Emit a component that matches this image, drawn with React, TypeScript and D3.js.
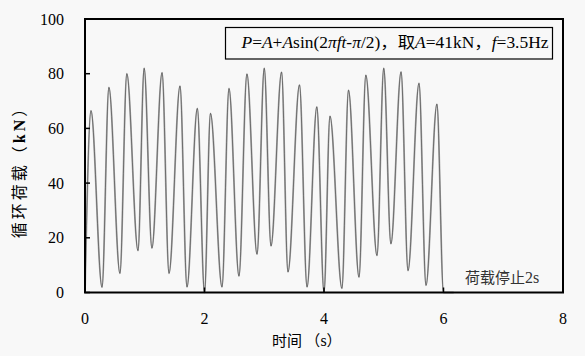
import * as d3 from "d3";
import React from "react";

// extrema of the recorded load history (s, kN)
const times = [
  0, 0.1, 0.285, 0.4, 0.585, 0.7, 0.887, 0.99, 1.12, 1.29, 1.406, 1.59, 1.707, 1.88,
  2.0, 2.1, 2.293, 2.41, 2.577, 2.71, 2.879, 3.0, 3.113, 3.29, 3.397, 3.59, 3.716, 3.88,
  4.0, 4.1, 4.3, 4.41, 4.586, 4.7, 4.887, 5.0, 5.12, 5.29, 5.406, 5.59, 5.707, 5.89,
  6.0, 6.17,
];
const loads = [
  0, 66.5, 1.9, 75, 7, 80, 15.3, 82, 16.2, 80.4, 7, 75.5, 2, 67.3,
  0, 65.5, 2, 74.6, 6, 79.9, 14, 82, 17, 80.6, 7.5, 75.9, 2, 67.9,
  0, 64.5, 1.5, 74, 5.6, 79.5, 13.5, 82, 17.8, 80.7, 8, 76.5, 2.6, 68.9,
  0, 0,
];

const xTicks = [0, 2, 4, 6, 8];
const yTicks = [0, 20, 40, 60, 80, 100];

const serif = "Liberation Serif, DejaVu Serif, serif";
const cjk = "Noto Sans CJK SC, sans-serif";

export default function App() {
  const width = 585;
  const height = 356;
  const margin = { top: 19, right: 22, bottom: 63.5, left: 85 };

  const x = d3.scaleLinear().domain([0, 8]).range([margin.left, width - margin.right]);
  const y = d3.scaleLinear().domain([0, 100]).range([height - margin.bottom, margin.top]);

  const pts = times.map((t, i) => [t, loads[i]] as [number, number]);
  const line = d3
    .line<[number, number]>()
    .x((d) => x(d[0]))
    .y((d) => y(d[1]))
    .curve(d3.curveMonotoneX);
  const path = line(pts) || "";

  const x0 = x(0);
  const x1 = x(8);
  const y0 = y(0);
  const y1 = y(100);

  const sf = { fontFamily: serif };
  const cf = { fontFamily: cjk };

  return (
    <svg
      width={width}
      height={height}
      style={{ position: "absolute", left: 0, top: 0, background: "#f8f8f8" }}
    >
      <rect x={0} y={0} width={width} height={height} fill="#f8f8f8" />

      {/* curve */}
      <path d={path} fill="none" stroke="#a8a8a8" strokeWidth={1.8} />
      <path d={path} fill="none" stroke="#333" strokeWidth={0.5} />

      {/* frame */}
      <rect x={x0} y={y1} width={x1 - x0} height={y0 - y1} fill="none" stroke="#000" strokeWidth={2} />

      {/* y ticks */}
      {yTicks.map((v) => (
        <g key={"y" + v}>
          <line x1={x0} x2={x0 + 5} y1={y(v)} y2={y(v)} stroke="#000" strokeWidth={1.5} />
          <text x={64} y={y(v)} dy="0.35em" textAnchor="end" style={sf} fontSize={16} fill="#000">
            {v}
          </text>
        </g>
      ))}

      {/* x ticks */}
      {xTicks.map((v) => (
        <g key={"x" + v}>
          <line x1={x(v)} x2={x(v)} y1={y0} y2={y0 - 5} stroke="#000" strokeWidth={1.5} />
          <text x={x(v)} y={y0 + 31} textAnchor="middle" style={sf} fontSize={16} fill="#000">
            {v}
          </text>
        </g>
      ))}

      {/* axis titles */}
      <text x={272} y={346} fontSize={15} fill="#000">
        <tspan style={cf}>时间 （</tspan>
        <tspan style={sf} fontSize={16}>s</tspan>
        <tspan style={cf}>）</tspan>
      </text>
      <text
        transform={`translate(25,${168}) rotate(-90)`}
        textAnchor="middle"
        fontSize={16}
        letterSpacing={3}
        fill="#000"
      >
        <tspan style={cf}>循环荷载（</tspan>
        <tspan style={sf} fontWeight="bold">kN</tspan>
        <tspan style={cf}>）</tspan>
      </text>

      {/* formula box */}
      <rect x={225.5} y={27.5} width={327} height={31.5} fill="#f8f8f8" stroke="#000" strokeWidth={1.2} />
      <text x={241.5} y={48} fontSize={16} fill="#000" textLength={307} lengthAdjust="spacingAndGlyphs">
        <tspan style={sf} fontStyle="italic">P</tspan>
        <tspan style={sf}>=</tspan>
        <tspan style={sf} fontStyle="italic">A</tspan>
        <tspan style={sf}>+</tspan>
        <tspan style={sf} fontStyle="italic">A</tspan>
        <tspan style={sf}>sin(2</tspan>
        <tspan style={sf} fontStyle="italic">πft</tspan>
        <tspan style={sf}>-</tspan>
        <tspan style={sf} fontStyle="italic">π</tspan>
        <tspan style={sf}>/2)</tspan>
        <tspan style={cf}>，取</tspan>
        <tspan style={sf} fontStyle="italic">A</tspan>
        <tspan style={sf}>=41kN</tspan>
        <tspan style={cf}>，</tspan>
        <tspan style={sf} fontStyle="italic">f</tspan>
        <tspan style={sf}>=3.5Hz</tspan>
      </text>

      {/* annotation */}
      <text x={465} y={283} fontSize={15} fill="#333">
        <tspan style={cf}>荷载停止</tspan>
        <tspan style={sf} fontSize={16}>2s</tspan>
      </text>
    </svg>
  );
}
